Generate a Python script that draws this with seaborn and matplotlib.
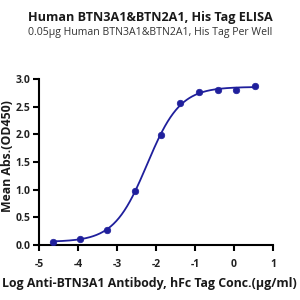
import numpy as np
import pandas as pd
import matplotlib
matplotlib.use("Agg")
import matplotlib.pyplot as plt
import seaborn as sns

# ---- data ----
log_conc = [-4.65, -3.95, -3.25, -2.55, -1.86, -1.38, -0.90, -0.42, 0.06, 0.54]
od450 = [0.06, 0.11, 0.28, 0.97, 1.99, 2.56, 2.77, 2.80, 2.81, 2.87]
x_ticks = [-5, -4, -3, -2, -1, 0, 1]
x_tick_labels = ["-5", "-4", "-3", "-2", "-1", "0", "1"]
y_ticks = [0.0, 0.5, 1.0, 1.5, 2.0, 2.5, 3.0]
y_tick_labels = ["0.0", "0.5", "1.0", "1.5", "2.0", "2.5", "3.0"]
title = "Human BTN3A1&BTN2A1, His Tag ELISA"
subtitle = "0.05\u03bcg Human BTN3A1&BTN2A1, His Tag Per Well"
xlabel = "Log Anti-BTN3A1 Antibody, hFc Tag Conc.(\u03bcg/ml)"
ylabel = "Mean Abs.(OD450)"

COLOR = "#1f1f9c"

# ---- 4PL fit of the data (Levenberg-Marquardt, numpy only) ----
x = np.array(log_conc)
y = np.array(od450)


def f4(p, xx):
    b, t, c, h = p
    return b + (t - b) / (1 + 10 ** ((c - xx) * h))


p = np.array([y.min(), y.max(), np.median(x), 1.0])
lam = 1e-2
for _ in range(500):
    r = y - f4(p, x)
    J = np.zeros((len(x), 4))
    for i in range(4):
        dp = np.zeros(4)
        dp[i] = 1e-6
        J[:, i] = (f4(p + dp, x) - f4(p - dp, x)) / 2e-6
    A = J.T @ J
    g = J.T @ r
    step = np.linalg.solve(A + lam * np.diag(np.diag(A)), g)
    pn = p + step
    if np.sum((y - f4(pn, x)) ** 2) < np.sum(r ** 2):
        p = pn
        lam *= 0.5
    else:
        lam *= 3

xs = np.linspace(x.min(), x.max(), 300)
curve = pd.DataFrame({"x": xs, "y": f4(p, xs)})
pts = pd.DataFrame({"x": log_conc, "y": od450})

sns.set_theme(style="ticks")
plt.rcParams["font.family"] = ["Open Sans", "DejaVu Sans"]

fig = plt.figure(figsize=(3, 3), dpi=100)
ax = fig.add_axes([39 / 300, 55 / 300, 234 / 300, 166 / 300])

sns.lineplot(data=curve, x="x", y="y", ax=ax, color=COLOR, lw=1.3)
sns.scatterplot(data=pts, x="x", y="y", ax=ax, color=COLOR, s=22,
                edgecolor=COLOR, linewidth=0.5, zorder=3)

ax.set_xlim(-5, 1)
ax.set_ylim(0, 3)
ax.set_xticks(x_ticks)
ax.set_xticklabels(x_tick_labels)
ax.set_yticks(y_ticks)
ax.set_yticklabels(y_tick_labels)
ax.set_xlabel("")
ax.set_ylabel("")
for s in ["top", "right"]:
    ax.spines[s].set_visible(False)
for s in ["left", "bottom"]:
    ax.spines[s].set_linewidth(1.5)
    ax.spines[s].set_color("black")
ax.tick_params(axis="both", direction="out", length=4, width=1.5,
               color="black", labelsize=7.5, pad=2)
for lab in ax.get_xticklabels() + ax.get_yticklabels():
    lab.set_fontweight("bold")
    lab.set_color("#222222")
ax.tick_params(axis="x", pad=6)

fig.canvas.draw()
rend = fig.canvas.get_renderer()


def fit_width(t, target):
    w = t.get_window_extent(rend).width
    t.set_fontsize(t.get_fontsize() * target / w)


t1 = fig.text(0.5, 1 - 17 / 300, title, ha="center", va="center",
              fontsize=10, fontweight="bold", color="#1a1a1a")
fit_width(t1, 246)
t2 = fig.text(0.5, 1 - 33 / 300, subtitle, ha="center", va="center",
              fontsize=9, color="#333333")
fit_width(t2, 246)
t3 = fig.text(2 / 300, 1 - 283 / 300, xlabel,
              ha="left", va="center", fontsize=10, fontweight="bold", color="#1a1a1a")
fit_width(t3, 295)
t4 = fig.text(1 / 300, 1 - 156 / 300, ylabel, ha="left", va="center",
              fontsize=9, fontweight="bold", color="#1a1a1a")
fit_width(t4, 112)
t4.set_rotation(90)

fig.savefig("out.png", dpi=100)
